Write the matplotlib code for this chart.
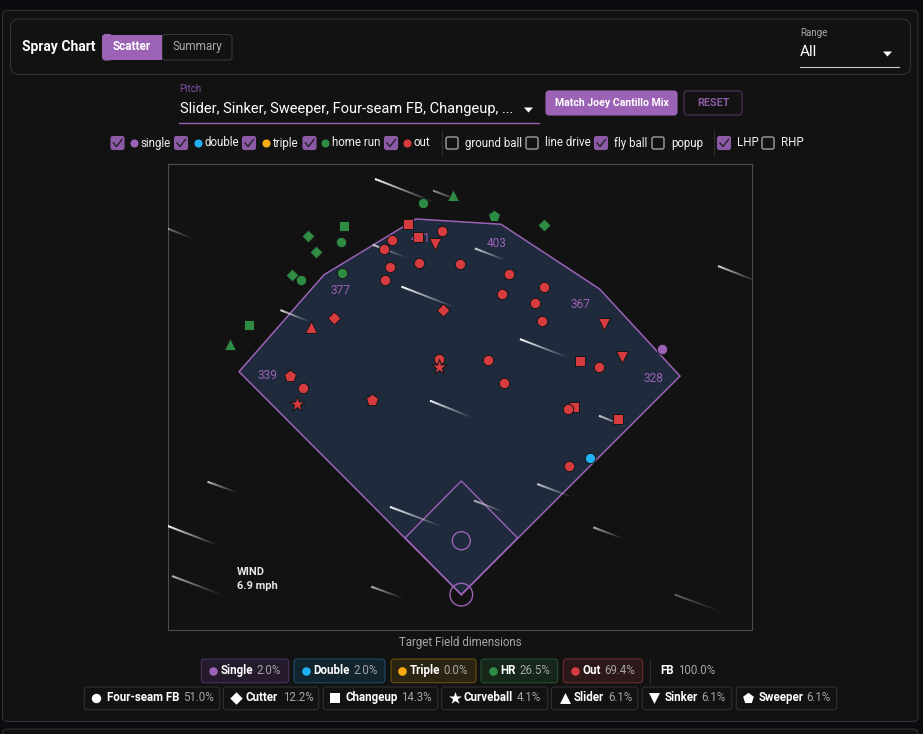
import numpy as np
import matplotlib
matplotlib.use("Agg")
import matplotlib.pyplot as plt
from matplotlib.collections import LineCollection
from matplotlib.patches import Circle, FancyBboxPatch, Polygon, Rectangle

plt.rcParams["font.family"] = ["Roboto", "DejaVu Sans"]

# batted balls, feet from home plate
single_x = [215.5]
single_y = [263.9]
single_pitch = ["Four-seam FB"]

double_x = [138.7]
double_y = [147.3]
double_pitch = ["Four-seam FB"]

hr_x = [-125.8, -165.2, -129.7, -156.2, -128.0, -181.7, -172.4, -228.0, -248.7, -40.9, -8.9, 35.2, 89.2]
hr_y = [396.8, 385.4, 379.6, 368.8, 346.2, 343.4, 338.1, 290.0, 269.6, 421.5, 429.8, 407.5, 397.2]
hr_pitch = ["Changeup", "Cutter", "Four-seam FB", "Cutter", "Four-seam FB", "Cutter", "Four-seam FB",
            "Changeup", "Slider", "Four-seam FB", "Slider", "Sweeper", "Cutter"]

out_x = [-57.6, -46.9, -20.4, -28.0, -74.8, -83.4, -45.5, -77.0, -1.9, -82.0, -20.0, -136.9, -161.9,
         -23.7, -23.7, -184.2, -169.9, -177.0, -96.0, 51.6, 88.6, 43.4, 79.2, 86.5, 153.4, 172.5,
         127.3, 148.1, 29.0, 45.6, 121.5, 114.7, 168.2, 116.1]
out_y = [398.3, 384.3, 391.1, 377.1, 381.1, 371.7, 356.7, 352.7, 355.6, 338.4, 306.5, 297.8, 288.2,
         253.4, 245.2, 234.8, 222.3, 204.7, 209.4, 344.8, 330.5, 323.0, 313.3, 294.6, 291.1, 255.6,
         251.3, 245.2, 252.7, 227.6, 201.5, 199.7, 188.9, 138.4]
out_pitch = ["Changeup", "Changeup", "Four-seam FB", "Sinker", "Four-seam FB", "Four-seam FB", "Four-seam FB",
             "Four-seam FB", "Four-seam FB", "Four-seam FB", "Cutter", "Cutter", "Slider",
             "Four-seam FB", "Curveball", "Sweeper", "Four-seam FB", "Curveball", "Sweeper",
             "Four-seam FB", "Four-seam FB", "Four-seam FB", "Four-seam FB", "Four-seam FB", "Sinker", "Sinker",
             "Changeup", "Four-seam FB", "Four-seam FB", "Four-seam FB", "Changeup", "Four-seam FB", "Changeup",
             "Four-seam FB"]

# target field outline and dimensions
wall_x = [-239.0, -147.6, -48.7, 42.7, 148.7, 235.2]
wall_y = [239.8, 344.0, 404.0, 398.3, 328.7, 235.0]
infield_x = [0.0, -60.5, 0.0, 60.5]
infield_y = [0.0, 61.0, 122.3, 61.0]
dim_labels = ["339", "377", "411", "403", "367", "328"]
dim_x = [-208.4, -130.4, -43.3, 38.4, 128.2, 206.6]
dim_y = [236.2, 327.6, 383.5, 377.6, 312.1, 232.5]

# wind streaks (start x, start y, end x, end y, brightness)
wind_streaks = [
    (-92.8, 447.0, -28.3, 421.8, 1.0), (-30.4, 434.5, 0.8, 422.7, 0.55), (-323.0, 396.5, -289.0, 383.0, 0.6),
    (-194.5, 306.0, -163.0, 293.5, 0.9), (-95.0, 376.2, -59.4, 362.6, 0.8), (-64.3, 331.2, -6.8, 309.0, 1.0),
    (-33.7, 208.6, 11.5, 190.5, 1.0), (14.7, 372.3, 47.0, 359.8, 0.85), (63.1, 274.8, 114.8, 255.0, 1.0),
    (148.1, 192.4, 177.6, 180.6, 0.85), (276.0, 353.4, 318.0, 337.0, 0.85), (-272.9, 121.4, -241.4, 110.0, 0.75),
    (-315.8, 73.9, -261.9, 53.2, 1.0), (-311.0, 20.0, -258.0, 0.0, 0.7), (-96.8, 8.6, -62.4, -3.9, 0.7),
    (-76.7, 94.4, -21.2, 73.5, 1.0), (13.7, 101.1, 46.8, 88.6, 0.7), (81.6, 119.0, 119.0, 105.0, 0.8),
    (142.0, 72.4, 173.0, 60.6, 0.7), (229.5, 0.0, 279.0, -18.0, 0.35),
]

# summary chips
result_chips = ["Single", "Double", "Triple", "HR", "Out"]
result_pcts = ["2.0%", "2.0%", "0.0%", "26.5%", "69.4%"]
pitch_chips = ["Four-seam FB", "Cutter", "Changeup", "Curveball", "Slider", "Sinker", "Sweeper"]
pitch_pcts = ["51.0%", "12.2%", "14.3%", "4.1%", "6.1%", "6.1%", "6.1%"]
contact_label = "FB"
contact_pct = "100.0%"
wind_speed = "6.9 mph"

PURPLE = "#9b62b5"
RED = "#d63c3f"
GREEN = "#2e8b43"
BLUE = "#1fb0f5"
ORANGE = "#f9ab14"
BG = "#121212"
markers = {"Four-seam FB": "o", "Cutter": "D", "Changeup": "s", "Curveball": "*",
           "Slider": "^", "Sinker": "v", "Sweeper": "p"}
sizes = {"o": 56, "D": 44, "s": 56, "*": 135, "^": 75, "v": 75, "p": 82}
icon_sizes = {"o": 46, "D": 40, "s": 48, "*": 90, "^": 62, "v": 62, "p": 66}

fig = plt.figure(figsize=(9.23, 7.34), dpi=100, facecolor="#0c0c10")

# page layer in pixels
ui = fig.add_axes([0, 0, 1, 1])
ui.set_xlim(0, 923)
ui.set_ylim(734, 0)
ui.axis("off")


def box(x0, y0, x1, y1, fc="none", ec="#2e2e2e", r=4, lw=0.8, z=1):
    ui.add_patch(FancyBboxPatch((x0, y0), x1 - x0, y1 - y0, boxstyle=f"round,pad=0,rounding_size={r}",
                                fc=fc, ec=ec, lw=lw, zorder=z))


def txt(x, y, s, size=8.6, color="white", weight="normal", ha="left"):
    ui.text(x, y, s, fontsize=size, color=color, fontweight=weight, ha=ha, va="center", zorder=5)


def checkbox(x, y, checked):
    if checked:
        box(x - 6.5, y - 6.5, x + 6.5, y + 6.5, fc="#8d5ba6", ec="#8d5ba6", r=2, lw=0.8, z=3)
        ui.plot([x - 4, x - 1, x + 4.5], [y, y + 3.5, y - 3.5], color="#23202a", lw=1.0, zorder=4)
    else:
        box(x - 6, y - 6, x + 6, y + 6, ec="#8a8a8a", r=2, lw=1.2, z=3)


def arrow(x, y):
    ui.add_patch(Polygon([(x - 4.5, y - 2), (x + 4.5, y - 2), (x, y + 3)], fc="white", ec="none", zorder=5))


# panels
box(2.5, 10.5, 918, 721.5, fc=BG, ec="#303030", r=5)
box(2.5, 729, 918, 760, fc=BG, ec="#303030", r=5)
box(10.5, 19, 910.5, 74.5, ec="#333333", r=9)

# header
txt(22, 47.5, "Spray Chart", size=10, weight="bold")
ui.add_patch(Rectangle((104, 34.5), 58, 25.5, fc=PURPLE, ec="none", zorder=2))
box(102.5, 34.5, 112, 60, fc=PURPLE, ec=PURPLE, r=3, z=2)
box(162, 34.5, 232, 60, ec="#383838", r=3)
txt(132, 46.5, "Scatter", size=8.5, weight="bold", ha="center")
txt(197, 46.5, "Summary", size=8.5, color="#a8a8a8", ha="center")

txt(800, 32.5, "Range", size=7, color="#a8a8a8")
txt(800, 52.5, "All", size=11)
arrow(887.5, 53.5)
ui.plot([800, 899], [66.5, 66.5], color="#c8c8c8", lw=0.8)

# pitch select
txt(179.5, 88.5, "Pitch", size=7, color="#8450a8")
txt(179.5, 108.5, "Slider, Sinker, Sweeper, Four-seam FB, Changeup, ...", size=10.55)
arrow(528.5, 109.5)
ui.plot([179, 539], [122.5, 122.5], color=PURPLE, lw=1.0)
box(546, 91, 677, 115, fc=PURPLE, ec=PURPLE, r=3, z=2)
txt(611.5, 102.5, "Match Joey Cantillo Mix", size=7.6, weight="bold", ha="center")
box(684, 91, 742, 115, ec="#52335f", r=3)
txt(713, 102.5, "RESET", size=7.8, color="#8a5aa5", weight="bold", ha="center")

# filter row
filters = [(117.5, True, 133.5, PURPLE, 140.5, "single", 143), (181, True, 197.5, BLUE, 204.5, "double", 143),
           (249, True, 265.5, ORANGE, 272.5, "triple", 143), (309.5, True, 325, GREEN, 332.5, "home run", 143),
           (391, True, 406.5, RED, 414, "out", 143), (452, False, None, None, 465, "ground ball", 143),
           (532, False, None, None, 545, "line drive", 143), (601, True, None, None, 614, "fly ball", 143),
           (658, False, None, None, 671, "popup", 143), (724, True, None, None, 737, "LHP", 142),
           (768, False, None, None, 781, "RHP", 142)]
for cx, checked, dot_x, dot_c, tx, label, ty in filters:
    checkbox(cx, 143, checked)
    if dot_x:
        ui.scatter([dot_x], [143], s=34, color=dot_c, lw=0, zorder=4)
    txt(tx, ty, label, size=8.3, color="#f0f0f0")
for sep_x in [441.5, 713.5]:
    ui.plot([sep_x, sep_x], [130, 156], color="#2e2e2e", lw=0.8)

# chart
ax = fig.add_axes([168 / 923, 1 - 630 / 734, 584 / 923, 466 / 734])
ax.set_xlim(-315.4, 312.6)
ax.set_ylim(-38.0, 463.1)
ax.set_facecolor(BG)
ax.set_xticks([])
ax.set_yticks([])
for s in ax.spines.values():
    s.set_color("#4d4d4d")
    s.set_linewidth(0.8)

field = [(0, 0)] + list(zip(wall_x, wall_y))
ax.add_patch(Polygon(field, closed=True, fc="#1f2a3d", ec=PURPLE, lw=1.1, zorder=2))
ax.plot(infield_x[:2] + infield_x[2:], infield_y, color=PURPLE, lw=1.0, zorder=2)
ax.plot([infield_x[3], infield_x[0]], [infield_y[3], infield_y[0]], color=PURPLE, lw=1.0, zorder=2)
ax.add_patch(Circle((0, 58), 9.7, fc="none", ec=PURPLE, lw=1.0, zorder=2))
ax.add_patch(Circle((0, 0), 12.2, fc="none", ec=PURPLE, lw=1.0, zorder=2))

for lab, x, y in zip(dim_labels, dim_x, dim_y):
    ax.text(x, y, lab, color=PURPLE, fontsize=8.6, ha="center", va="center", zorder=3,
            fontfamily=["Liberation Sans Narrow", "Roboto"])

# fading wind streaks
for x0, y0, x1, y1, bright in wind_streaks:
    t = np.linspace(0, 1, 25)
    xs = x0 + (x1 - x0) * t
    ys = y0 + (y1 - y0) * t
    segs = np.stack([np.column_stack([xs[:-1], ys[:-1]]), np.column_stack([xs[1:], ys[1:]])], axis=1)
    alpha = bright * (1 - t[:-1]) ** 1.1
    cols = np.column_stack([np.ones((24, 3)), alpha])
    ax.add_collection(LineCollection(segs, colors=cols, linewidths=1.5 - 0.4 * t[:-1], zorder=3, capstyle="butt"))

for xs, ys, pitches, col in [(single_x, single_y, single_pitch, PURPLE), (double_x, double_y, double_pitch, BLUE),
                             (hr_x, hr_y, hr_pitch, GREEN), (out_x, out_y, out_pitch, RED)]:
    for x, y, p in zip(xs, ys, pitches):
        m = markers[p]
        ax.scatter([x], [y], marker=m, s=sizes[m], color=col, edgecolors="#161616", linewidths=0.7, zorder=5)

ui.text(460.5, 642.5, "Target Field dimensions", fontsize=8.3, color="#a6a6a6", ha="center", va="center")
ax.text(0.118, 0.1245, "WIND", transform=ax.transAxes, fontsize=8.0, color="#e6e6e6", fontweight="bold", va="center")
ax.text(0.118, 0.0945, wind_speed, transform=ax.transAxes, fontsize=8.0, color="#e6e6e6", fontweight="bold", va="center")

# result chips
res_boxes = [(201.3, 288.7), (294, 385), (391, 476), (481, 557.7), (563.3, 642.7)]
res_styles = [("#241a2b", "#4a2f5c", PURPLE), ("#12242e", "#1c4a63", BLUE), ("#2b2412", "#67500f", ORANGE),
              ("#17261a", "#254f2c", GREEN), ("#2c1819", "#6c2c2e", RED)]
res_dot = [213, 306, 402, 492.7, 575.3]
res_name = [220.3, 313.5, 410, 500.3, 582.7]
res_pct = [256.7, 353.3, 443.7, 519.3, 604.7]
for i, name in enumerate(result_chips):
    fc, ec, dot = res_styles[i]
    box(res_boxes[i][0], 659, res_boxes[i][1], 682.7, fc=fc, ec=ec, r=3)
    ui.scatter([res_dot[i]], [671], s=38, color=dot, lw=0, zorder=4)
    txt(res_name[i], 670.5, name, size=8.3, weight="bold")
    txt(res_pct[i], 670.5, result_pcts[i], size=8.3, color="#a5a5a5")
ui.plot([649.7, 649.7], [659, 683], color="#2e2e2e", lw=0.8)
txt(660.3, 670.5, contact_label, size=8.3, weight="bold")
txt(678, 670.5, contact_pct, size=8.3, color="#a5a5a5")

# pitch chips
pit_boxes = [(84.3, 219.7), (223.3, 318.7), (323.3, 437.7), (441.7, 547.7), (551.3, 637.7), (642.3, 731.7), (736.3, 836.7)]
pit_icon = [96, 236, 335, 454.7, 564.7, 654.3, 748.3]
pit_name = [106.7, 246, 345.3, 464, 574, 665, 758.7]
pit_pct = [183.3, 282.7, 401.3, 517, 608, 701.7, 806.7]
for i, name in enumerate(pitch_chips):
    m = markers[name]
    box(pit_boxes[i][0], 687, pit_boxes[i][1], 709.7, fc=BG, ec="#303030", r=3)
    ui.scatter([pit_icon[i]], [698], marker=m, s=icon_sizes[m], color="white", lw=0, zorder=4)
    txt(pit_name[i], 697.5, name, size=8.3, weight="bold")
    txt(pit_pct[i], 697.5, pitch_pcts[i], size=8.3, color="#a5a5a5")

fig.savefig("out.png", dpi=100, facecolor=fig.get_facecolor())
